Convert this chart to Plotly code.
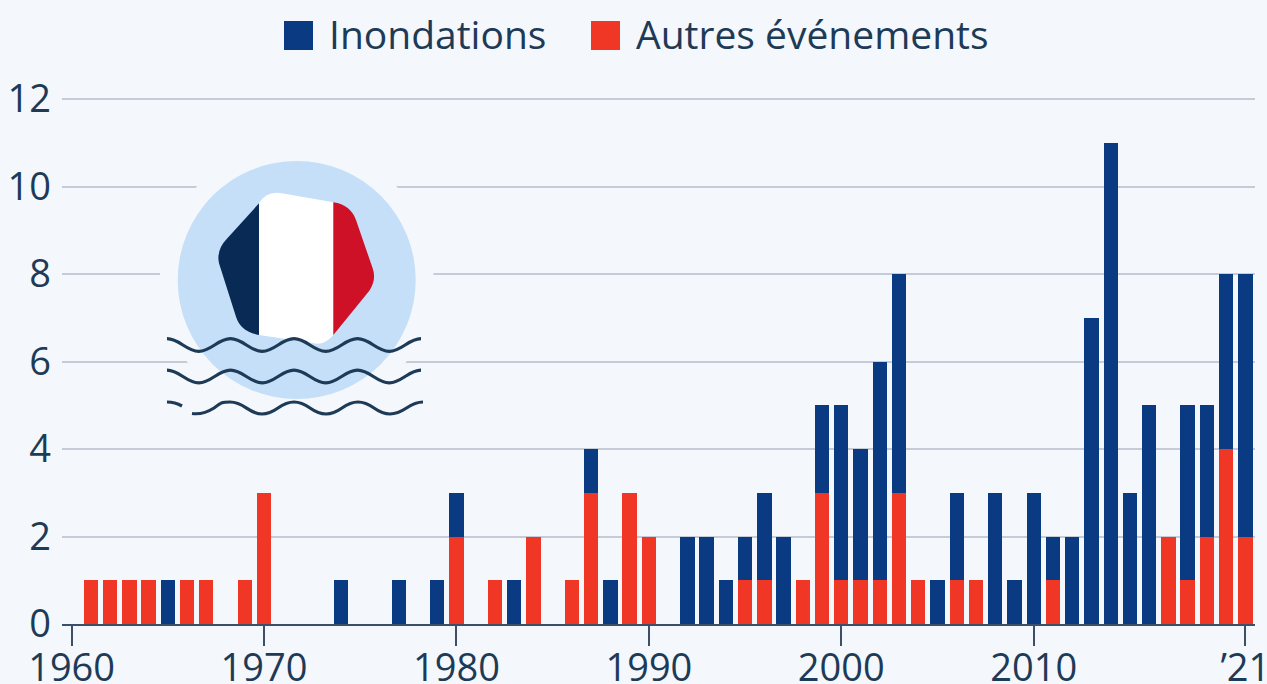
import plotly.graph_objects as go

years = list(range(1961, 2022))
inondations = [0,0,0,0,1,0,0,0,0,0,
               0,0,0,1,0,0,1,0,1,1,
               0,0,1,0,0,0,1,1,0,0,
               0,2,2,1,1,2,2,0,2,4,
               3,5,5,0,1,2,0,3,1,3,
               1,2,7,11,3,5,0,4,3,4,6]
autres = [1,1,1,1,0,1,1,0,1,3,
          0,0,0,0,0,0,0,0,0,2,
          0,1,0,2,0,1,3,0,3,2,
          0,0,0,0,1,1,0,1,3,1,
          1,1,3,1,0,1,1,0,0,0,
          1,0,0,0,0,0,2,1,2,4,2]
tick_years = [1960, 1970, 1980, 1990, 2000, 2010, 2021]
tick_labels = ["1960", "1970", "1980", "1990", "2000", "2010", "’21"]
y_ticks = [0, 2, 4, 6, 8, 10, 12]
series_names = ["Inondations", "Autres événements"]

BG = "#f4f7fb"
BLUE = "#0a3a82"
RED = "#f03726"
TEXT = "#1d3a57"
FONT = "Open Sans"
W, H = 1267, 684
L, R, T, B = 62, 1255, 97, 624
Y_TOP = (B - T) / 43.75


def px(x):
    return (x - L) / (R - L)


def py(y):
    return (B - y) / (B - T)


def path(cmds):
    """cmds given in target pixels, converted to paper coordinates."""
    out = []
    for c, pts in cmds:
        out.append(c + " ".join(f"{px(x):.5f},{py(y):.5f}" for x, y in pts))
    return " ".join(out) + " Z"


def z(a, b):
    return (150 + a / 3, 150 + b / 3)


shapes = []
# halo cutting the gridlines, then the disc
for r, col in [(137, BG), (119, "#c4dff7")]:
    shapes.append(dict(type="circle", xref="paper", yref="paper", layer="above",
                       x0=px(296.7 - r), x1=px(296.7 + r), y0=py(280 + r), y1=py(280 - r),
                       fillcolor=col, line_width=0))
flag = [
    ("#0a2a56", [("M", [z(327, 160)]), ("L", [z(232, 265)]), ("Q", [z(198, 300), z(207, 340)]),
                 ("L", [z(258, 500)]), ("Q", [z(272, 545), z(327, 555)])]),
    ("#ffffff", [("M", [z(327, 160)]), ("Q", [z(350, 122), z(395, 130)]), ("L", [z(550, 157)]),
                 ("L", [z(550, 555)]), ("Q", [z(520, 590), z(485, 578)]), ("L", [z(327, 555)])]),
    ("#ce1126", [("M", [z(550, 157)]), ("Q", [z(602, 165), z(618, 210)]), ("L", [z(668, 355)]),
                 ("Q", [z(680, 388), z(658, 422)]), ("L", [z(550, 555)])]),
]
for col, cmds in flag:
    shapes.append(dict(type="path", xref="paper", yref="paper", layer="above",
                       path=path(cmds), fillcolor=col, line_width=0))


def wave(y0, x_start=167.0, x_end=423.0):
    period = 63.5
    amp = 6.3
    k = 0.3642 * period / 2 * 1.1
    d = [f"M{px(x_start):.5f},{py(y0 - amp):.5f}"]
    x = x_start
    sign = 1
    while x < x_end - 10:
        nx = x + period / 2
        d.append(f"C{px(x + k):.5f},{py(y0 - sign * amp):.5f} {px(nx - k):.5f},{py(y0 + sign * amp):.5f} "
                 f"{px(nx):.5f},{py(y0 + sign * amp):.5f}")
        x = nx
        sign = -sign
    return " ".join(d)


WAVE = "#1d3a57"
WW = 3.2
for yw in (345.0, 376.5):
    shapes.append(dict(type="path", xref="paper", yref="paper", layer="above",
                       path=wave(yw), line=dict(color=WAVE, width=WW)))
# third wave: a short dash, a gap, then the rest
shapes.append(dict(type="path", xref="paper", yref="paper", layer="above",
                   path=f"M{px(167):.5f},{py(402):.5f} Q{px(175):.5f},{py(402):.5f} {px(182):.5f},{py(406):.5f}",
                   line=dict(color=WAVE, width=WW)))
shapes.append(dict(type="path", xref="paper", yref="paper", layer="above",
                   path=f"M{px(192):.5f},{py(413.5):.5f} Q{px(203):.5f},{py(415):.5f} {px(214):.5f},{py(408):.5f} "
                        f"C{px(222):.5f},{py(402):.5f} {px(222):.5f},{py(402):.5f} {px(230):.5f},{py(402):.5f} "
                        f"C{px(245):.5f},{py(402):.5f} {px(248):.5f},{py(414):.5f} {px(262):.5f},{py(414):.5f} "
                        f"C{px(277):.5f},{py(414):.5f} {px(279):.5f},{py(402):.5f} {px(294):.5f},{py(402):.5f} "
                        f"C{px(309):.5f},{py(402):.5f} {px(311):.5f},{py(414):.5f} {px(326):.5f},{py(414):.5f} "
                        f"C{px(341):.5f},{py(414):.5f} {px(343):.5f},{py(402):.5f} {px(358):.5f},{py(402):.5f} "
                        f"C{px(373):.5f},{py(402):.5f} {px(375):.5f},{py(414):.5f} {px(390):.5f},{py(414):.5f} "
                        f"C{px(405):.5f},{py(414):.5f} {px(408):.5f},{py(402):.5f} {px(423):.5f},{py(402):.5f}",
                   line=dict(color=WAVE, width=WW)))

# legend swatches and labels
annotations = []
for name, col, x_sw, x_txt in [(series_names[0], BLUE, 284, 327), (series_names[1], RED, 591, 634)]:
    shapes.append(dict(type="rect", xref="paper", yref="paper", layer="above",
                       x0=px(x_sw), x1=px(x_sw + 29), y0=py(50), y1=py(21),
                       fillcolor=col, line_width=0))
    annotations.append(dict(text=name, xref="paper", yref="paper", x=px(x_txt), y=py(33.5),
                            xanchor="left", yanchor="middle", showarrow=False, xshift=0,
                            font=dict(family=FONT, size=39, color=TEXT)))

fig = go.Figure()
fig.add_bar(x=years, y=autres, name=series_names[1], marker=dict(color=RED, line_width=0))
fig.add_bar(x=years, y=inondations, name=series_names[0], marker=dict(color=BLUE, line_width=0))
fig.update_layout(
    width=W, height=H, barmode="stack", bargap=0.255, showlegend=False,
    paper_bgcolor=BG, plot_bgcolor=BG,
    margin=dict(l=L, r=W - R, t=T, b=H - B, pad=0, autoexpand=False),
    font=dict(family=FONT, size=38, color=TEXT),
    shapes=shapes, annotations=annotations,
    xaxis=dict(range=[1959.5, 2021.5], tickmode="array", tickvals=tick_years, ticktext=tick_labels,
               ticks="outside", ticklen=20, tickwidth=2, tickcolor="#3b5068",
               showline=True, linecolor="#3b5068", linewidth=2, showgrid=False, zeroline=False,
               tickangle=0, ticklabeloverflow="allow", automargin=False, ticklabelstandoff=-11),
    yaxis=dict(range=[0, Y_TOP], tickmode="array", tickvals=y_ticks, showgrid=True,
               gridcolor="#c5ccd8", gridwidth=1.5, zeroline=False, showline=False, ticks="",
               ticklabelstandoff=10, automargin=False),
)
fig.write_html("out.html", config=dict(displayModeBar=False),
               post_script="document.body.style.margin='0';document.body.style.overflow='hidden';document.body.style.background='" + BG + "';")
